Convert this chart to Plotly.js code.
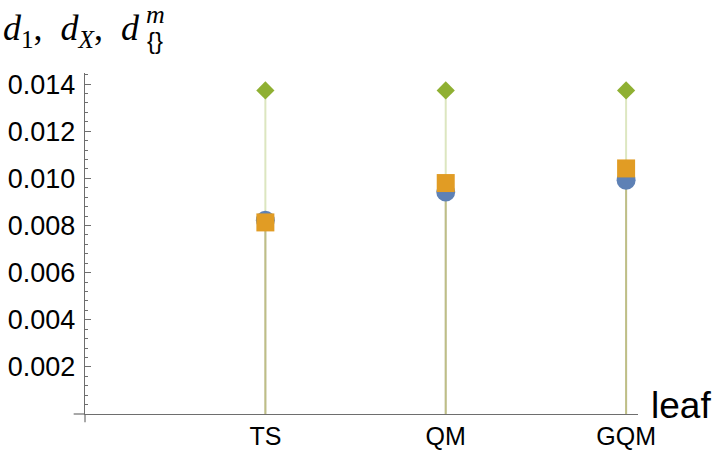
<!DOCTYPE html>
<html><head><meta charset="utf-8">
<script src="https://cdn.plot.ly/plotly-3.0.1.min.js"></script>
<style>body{margin:0;background:#fff}#c{width:720px;height:453px}</style>
</head><body><div id="c"></div>
<script>
const categories = ['TS', 'QM', 'GQM'];
const d1 = [0.00822, 0.00942, 0.00992];
const dX = [0.00813, 0.00980, 0.01042];
const dm = [0.01373, 0.01373, 0.01373];
const yTickVals = [0.002, 0.004, 0.006, 0.008, 0.010, 0.012, 0.014];
const yTickText = ['0.002', '0.004', '0.006', '0.008', '0.010', '0.012', '0.014'];

const xs = categories.map((c, i) => i + 1);
const colors = ['#5e81b5', '#e19c24', '#8fb032'];
const series = [d1, dX, dm];
const symbols = ['circle', 'square', 'diamond'];
const sizes = [19, 18, 14];

function stem(vals, color) {
  const x = [], y = [];
  vals.forEach((v, i) => { x.push(xs[i], xs[i], null); y.push(0, v, null); });
  return {x, y, mode: 'lines', line: {color, width: 2}, opacity: 0.3, hoverinfo: 'skip', showlegend: false};
}
const traces = [];
series.forEach((s, k) => traces.push(stem(s, colors[k])));
series.forEach((s, k) => traces.push({
  x: xs, y: s, mode: 'markers', showlegend: false,
  marker: {symbol: symbols[k], size: sizes[k], color: colors[k], line: {width: 0}}
}));

const axisColor = '#6e6e6e';
const serif = 'Liberation Serif, Times New Roman, serif';
const sans = 'Liberation Sans, Arial, sans-serif';
const layout = {
  width: 720, height: 453,
  margin: {l: 84.5, r: 82, t: 73, b: 39},
  paper_bgcolor: '#fff', plot_bgcolor: 'rgba(0,0,0,0)',
  showlegend: false,
  font: {family: sans, color: '#000'},
  xaxis: {
    range: [0, 3.066], showgrid: false, zeroline: false,
    showline: true, linecolor: axisColor, linewidth: 1.2,
    tickmode: 'array', tickvals: xs, ticktext: categories,
    ticks: '', tickfont: {size: 25}, ticklabelstandoff: 0
  },
  yaxis: {
    range: [0, 0.01447], showgrid: false, zeroline: false,
    showline: true, linecolor: axisColor, linewidth: 1.2,
    tickmode: 'array', tickvals: yTickVals, ticktext: yTickText,
    ticks: 'inside', ticklen: 6, tickcolor: axisColor, tickwidth: 1,
    tickfont: {size: 27}, ticklabelstandoff: 3,
    minor: {tick0: 0, dtick: 0.0004, ticks: 'inside', ticklen: 3, tickcolor: axisColor, tickwidth: 1}
  },
  shapes: [
    {type: 'line', xref: 'paper', yref: 'paper', x0: -0.0205, x1: 0, y0: 0, y1: 0, line: {color: axisColor, width: 1.2}},
    {type: 'line', xref: 'paper', yref: 'paper', x0: 0, x1: 0, y0: 0, y1: -0.024, line: {color: axisColor, width: 1.2}}
  ],
  annotations: [
    {xref: 'paper', yref: 'paper', x: 1.02, y: 0.0, xanchor: 'left', yanchor: 'bottom', yshift: -14,
     text: 'leaf', showarrow: false, font: {size: 37, family: sans}},
    {xref: 'paper', yref: 'paper', x: -0.151, y: 1.125, xanchor: 'left', yanchor: 'middle',
     text: '<i>d</i><sub>1</sub>,  <i>d<sub>X</sub></i>,  <i>d</i>', showarrow: false,
     font: {size: 36, family: serif}},
    {xref: 'paper', yref: 'paper', x: 0.1274, y: 1.172, xanchor: 'center', yanchor: 'middle',
     text: '<i>m</i>', showarrow: false, font: {size: 26, family: serif}},
    {xref: 'paper', yref: 'paper', x: 0.1265, y: 1.094, xanchor: 'center', yanchor: 'middle',
     text: '{}', showarrow: false, font: {size: 24, family: sans}}
  ]
};
Plotly.newPlot('c', traces, layout, {displayModeBar: false, staticPlot: true});
</script></body></html>
